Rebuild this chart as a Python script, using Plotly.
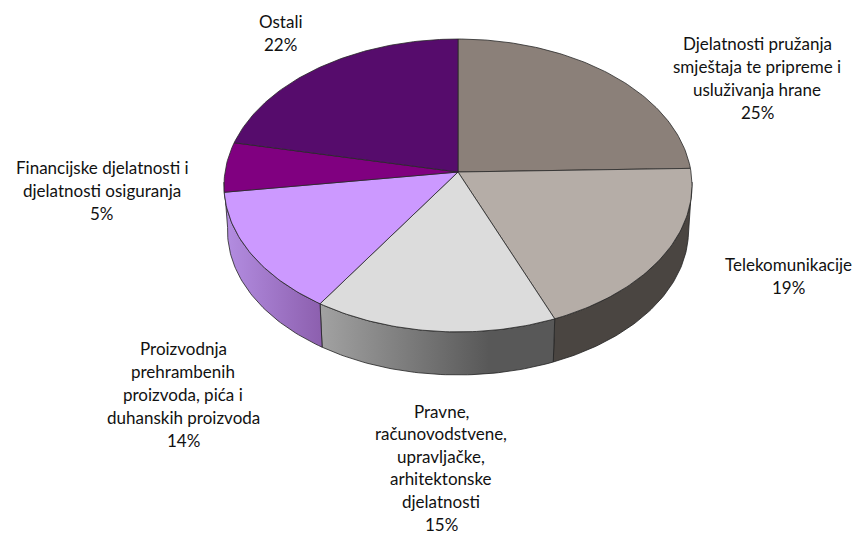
import math
import plotly.graph_objects as go

# Data (percent shares; labels show rounded values)
categories = [
    "Djelatnosti pružanja smještaja te pripreme i usluživanja hrane",
    "Telekomunikacije",
    "Pravne, računovodstvene, upravljačke, arhitektonske djelatnosti",
    "Proizvodnja prehrambenih proizvoda, pića i duhanskih proizvoda",
    "Financijske djelatnosti i djelatnosti osiguranja",
    "Ostali",
]
values = [24.6, 19.2, 15.4, 13.6, 5.49, 21.71]
value_labels = ["25%", "19%", "15%", "14%", "5%", "22%"]
label_lines = [
    ["Djelatnosti pružanja", "smještaja te pripreme i", "usluživanja hrane"],
    ["Telekomunikacije"],
    ["Pravne,", "računovodstvene,", "upravljačke,", "arhitektonske", "djelatnosti"],
    ["Proizvodnja", "prehrambenih", "proizvoda, pića i", "duhanskih proizvoda"],
    ["Financijske djelatnosti i", "djelatnosti osiguranja"],
    ["Ostali"],
]

# Styling
top_colors = ["#8B8079", "#B5ADA7", "#DCDCDC", "#CC99FF", "#800080", "#560C6C"]
side_gradients = {
    1: [[0, "#4A4541"], [1, "#4A4541"]],
    2: [[0, "#A2A2A2"], [0.72, "#585858"], [1, "#585858"]],
    3: [[0, "#B48EE2"], [1, "#8C5FAE"]],
}
label_anchor = [(757, 43), (788, 264), (441, 411), (183, 348), (102, 167), (280, 21)]
line_steps = [23.2, 23.2, 22.6, 23.2, 23.2, 23.2]

# Projection of the tilted disc
CX, CY, A, B, K = 458.0, 172.0, 233.0, 145.2, 0.092
DEPTH, BOTTOM_SCALE = 45.4, 0.985


def project(theta_deg, bottom=False):
    t = math.radians(theta_deg)
    u, v = math.sin(t), math.cos(t)
    w = 1 + K * v
    s = BOTTOM_SCALE if bottom else 1.0
    return CX + s * A * u / w, CY + (DEPTH if bottom else 0) - s * B * v / w


def arc(a, b, bottom=False, step=1.0):
    n = max(2, int(abs(b - a) / step) + 1)
    return [project(a + (b - a) * i / (n - 1), bottom) for i in range(n)]


total = sum(values)
edges = [0.0]
for val in values:
    edges.append(edges[-1] + 360.0 * val / total)

fig = go.Figure()

# Visible rim limits (silhouette of the extruded disc)
RIM_START, RIM_END = 94.0, 266.0
for i in (1, 2, 3):
    a = max(edges[i], RIM_START)
    b = edges[i + 1] if i < 3 else RIM_END
    pts = arc(a, b) + arc(b, a, bottom=True)
    pts.append(pts[0])
    fig.add_trace(go.Scatter(
        x=[p[0] for p in pts], y=[p[1] for p in pts], mode="lines",
        fill="toself",
        fillgradient=dict(type="horizontal", colorscale=side_gradients[i]),
        line=dict(color="rgba(35,35,35,0.8)", width=1),
        hoverinfo="skip", showlegend=False,
    ))

for i in range(len(values)):
    pts = [(CX, CY)] + arc(edges[i], edges[i + 1]) + [(CX, CY)]
    fig.add_trace(go.Scatter(
        x=[p[0] for p in pts], y=[p[1] for p in pts], mode="lines",
        fill="toself", fillcolor=top_colors[i],
        line=dict(color="rgba(40,40,40,0.8)", width=1),
        name=categories[i], hoverinfo="name", showlegend=False,
    ))

annotations = []
for lines, pct, (lx, ly), step in zip(label_lines, value_labels, label_anchor, line_steps):
    for j, txt in enumerate(lines + [pct]):
        annotations.append(dict(
            x=lx, y=ly + j * step, text=txt, showarrow=False, borderpad=0,
            xref="x", yref="y", xanchor="center", yanchor="middle",
            font=dict(family="Lato, Carlito, Calibri, sans-serif", size=17, color="#111111"),
        ))

fig.update_layout(
    width=860, height=536, margin=dict(l=0, r=0, t=0, b=0),
    paper_bgcolor="white", plot_bgcolor="white", showlegend=False,
    xaxis=dict(range=[0, 860], visible=False, fixedrange=True),
    yaxis=dict(range=[536, 0], visible=False, fixedrange=True),
    annotations=annotations,
)

fig.write_html("out.html", config={"displayModeBar": False},
               post_script="document.body.style.margin='0';")
